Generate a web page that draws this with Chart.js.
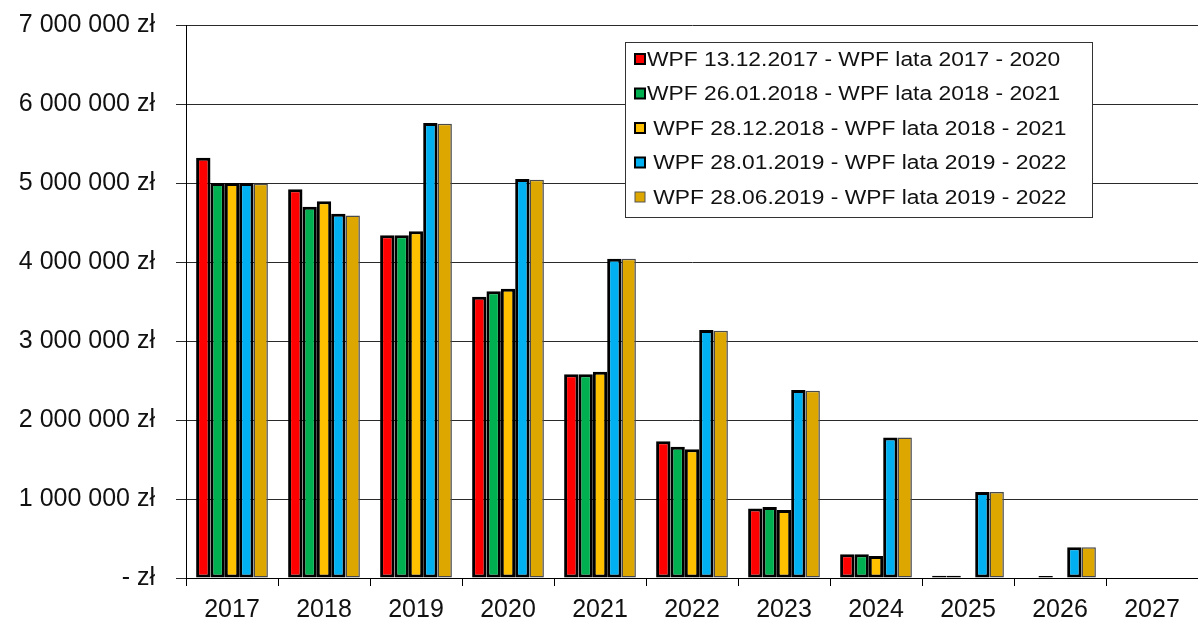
<!DOCTYPE html>
<html>
<head>
<meta charset="utf-8">
<script src="https://cdn.jsdelivr.net/npm/chart.js@4/dist/chart.umd.min.js"></script>
<style>
  html, body { margin: 0; padding: 0; background: #fff; }
  #wrap { width: 1198px; height: 622px; }
</style>
</head>
<body>
<div id="wrap"><canvas id="chart" width="1198" height="622"></canvas></div>
<script>
// years on the x axis
const years = ['2017', '2018', '2019', '2020', '2021', '2022', '2023', '2024', '2025', '2026', '2027'];

// one array per WPF version (zł)
const wpf2017 = [5320000, 4920000, 4340000, 3560000, 2580000, 1730000, 880000, 300000, 30000, 0, 0];
const wpf2018a = [5000000, 4700000, 4340000, 3630000, 2580000, 1660000, 900000, 300000, 30000, 25000, 0];
const wpf2018b = [5000000, 4770000, 4390000, 3660000, 2610000, 1630000, 860000, 280000, 0, 0, 0];
const wpf2019a = [5000000, 4610000, 5760000, 5050000, 4040000, 3140000, 2380000, 1780000, 1090000, 390000, 0];
const wpf2019b = [4990000, 4590000, 5750000, 5040000, 4040000, 3130000, 2370000, 1780000, 1090000, 390000, 0];

const seriesNames = [
  'WPF 13.12.2017 - WPF lata 2017 - 2020',
  'WPF 26.01.2018 - WPF lata 2018 - 2021',
  ' WPF 28.12.2018 - WPF lata 2018 - 2021',
  ' WPF 28.01.2019 - WPF lata 2019 - 2022',
  ' WPF 28.06.2019 - WPF lata 2019 - 2022'
];
const colors = ['#FF0000', '#00B050', '#FFC000', '#00B0F0', '#DDA700'];
const yTicks = [0, 1000000, 2000000, 3000000, 4000000, 5000000, 6000000, 7000000];

const FONT = '"Liberation Sans", Arial, sans-serif';

function zl(v) {
  if (v === 0) return '- zł';
  return String(v).replace(/\B(?=(\d{3})+(?!\d))/g, ' ') + ' zł';
}

// legend box sitting inside the plot, like the spreadsheet original
const boxLegend = {
  id: 'boxLegend',
  afterDraw(chart) {
    const ctx = chart.ctx;
    const x0 = 625, y0 = 42, w = 467, h = 175;
    ctx.save();
    ctx.fillStyle = '#fff';
    ctx.fillRect(x0, y0, w, h);
    ctx.strokeStyle = '#333';
    ctx.lineWidth = 1;
    ctx.strokeRect(x0 + 0.5, y0 + 0.5, w, h);
    chart.data.datasets.forEach((ds, i) => {
      const cy = 59 + i * 34.5;
      ctx.fillStyle = ds.backgroundColor;
      ctx.fillRect(635, cy - 5, 10, 10);
      ctx.strokeStyle = i === 4 ? '#555' : '#000';
      ctx.lineWidth = i === 4 ? 1 : 2;
      ctx.strokeRect(635, cy - 5, 10, 10);
      ctx.save();
      ctx.translate(647, cy);
      ctx.scale(1.14, 1);
      ctx.fillStyle = '#111';
      ctx.font = '20px ' + FONT;
      ctx.textBaseline = 'middle';
      ctx.fillText(ds.label, 0, 1);
      ctx.restore();
    });
    ctx.restore();
  }
};

const datasets = [wpf2017, wpf2018a, wpf2018b, wpf2019a, wpf2019b].map((d, i) => ({
  label: seriesNames[i],
  data: d,
  backgroundColor: colors[i],
  borderColor: i === 4 ? '#4a4a4a' : '#000',
  borderWidth: i === 4 ? 1.5 : 3,
  borderSkipped: false,
  categoryPercentage: 0.78,
  barPercentage: 1.0
}));

new Chart(document.getElementById('chart').getContext('2d'), {
  type: 'bar',
  data: { labels: years, datasets: datasets },
  options: {
    responsive: false,
    animation: false,
    layout: { autoPadding: false, padding: { top: 25, right: 0, left: 0, bottom: 0 } },
    plugins: {
      legend: { display: false },
      tooltip: { enabled: false }
    },
    scales: {
      x: {
        grid: { display: true, drawOnChartArea: false, offset: true, color: '#000', tickLength: 8 },
        border: { display: true, color: '#000', width: 1 },
        ticks: { color: '#111', font: { family: FONT, size: 25 }, padding: 9, maxRotation: 0 },
        afterFit(s) { s.height = 44; s.paddingLeft = 0; s.paddingRight = 0; }
      },
      y: {
        min: 0,
        max: 7000000,
        afterBuildTicks(s) { s.ticks = yTicks.map(v => ({ value: v })); },
        grid: { color: '#2a2a2a', lineWidth: 1, tickLength: 10 },
        border: { display: true, color: '#000', width: 1 },
        ticks: {
          color: '#111',
          font: { family: FONT, size: 25 },
          padding: 21,
          callback: v => zl(v)
        },
        afterFit(s) { s.width = 186; s.paddingTop = 0; s.paddingBottom = 0; }
      }
    }
  },
  plugins: [boxLegend]
});
</script>
</body>
</html>
